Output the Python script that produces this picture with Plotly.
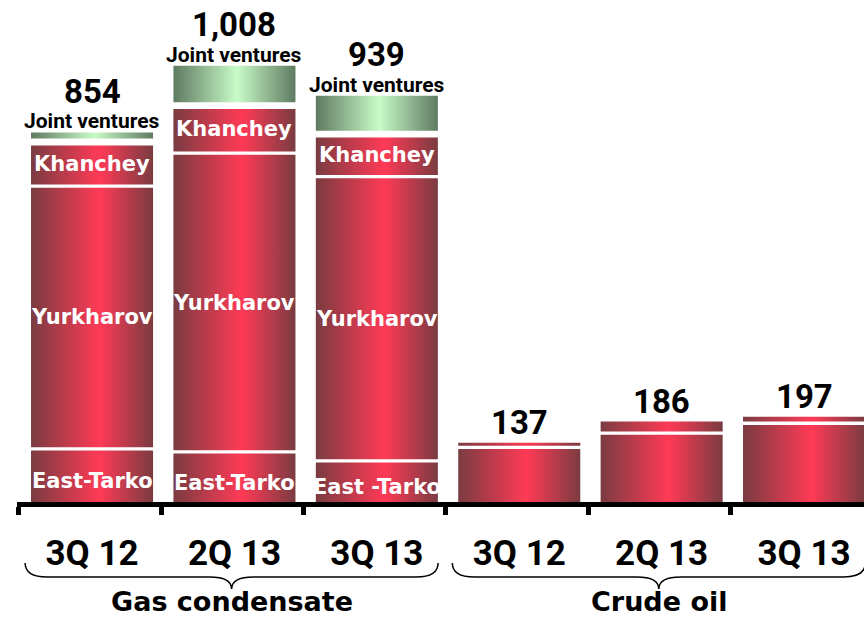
import plotly.graph_objects as go

# ---------------- data ----------------
categories = ["3Q 12", "2Q 13", "3Q 13", "3Q 12", "2Q 13", "3Q 13"]
groups = ["Gas condensate", "Crude oil"]
group_members = [[0, 1, 2], [3, 4, 5]]

east_tarko = [123, 116, 95]
yurkharov = [607, 690, 657]
khanchey = [102, 110, 98]
joint_ventures = [22, 92, 89]
gas_totals = [854, 1008, 939]
east_tarko_text = ["East-Tarko", "East-Tarko", "East -Tarko"]

oil_main = [126, 159, 182]
oil_top = [11, 27, 15]
oil_totals = [137, 186, 197]

# ---------------- style ----------------
RED = [[0, "#7a3c41"], [0.56, "#ff3a56"], [1, "#7a3c41"]]
GREEN = [[0, "#5f7a60"], [0.52, "#c8fbc8"], [1, "#5f7a60"]]
BAR_W = 0.857
GAP_S = 7.6    # thin white separator (data units)
GAP_L = 16.0   # wider separator under joint ventures
X_RANGE = [-0.527, 5.421]
Y_RANGE = [0, 1160]
W, H = 864, 617
ML, MB = 17, 115
PLOT_H = H - MB

x_pos = list(range(len(categories)))

fig = go.Figure()


def add_segment(xc, y0, y1, scale):
    hw = BAR_W / 2
    fig.add_trace(go.Scatter(
        x=[xc - hw, xc + hw, xc + hw, xc - hw, xc - hw],
        y=[y0, y0, y1, y1, y0],
        mode="lines", fill="toself",
        line=dict(width=0, color="rgba(0,0,0,0)"),
        fillgradient=dict(type="horizontal", colorscale=scale),
        hoverinfo="skip", showlegend=False,
    ))


def draw_stack(xc, values, scales, gaps):
    base = 0
    bounds = []
    for k, (v, sc) in enumerate(zip(values, scales)):
        lo = base + (gaps[k - 1] / 2 if k > 0 else 0)
        hi = base + v - (gaps[k] / 2 if k < len(values) - 1 else 0)
        add_segment(xc, lo, hi, sc)
        bounds.append((base, base + v))
        base += v
    return bounds


annotations = []
VAL_FONT = dict(family="Roboto", size=33, color="black", weight="bold")
JV_FONT = dict(family="Roboto", size=21, color="black", weight="bold")
IN_FONT = dict(family="DejaVu Sans", size=21, color="white", weight="bold")

# gas condensate bars
for i in range(3):
    xc = x_pos[group_members[0][i]]
    vals = [east_tarko[i], yurkharov[i], khanchey[i], joint_ventures[i]]
    b = draw_stack(xc, vals, [RED, RED, RED, GREEN], [GAP_S, GAP_S, GAP_L])
    inner = [(east_tarko_text[i], b[0], -6), ("Yurkharov", b[1], 0), ("Khanchey", b[2], 0)]
    for txt, (lo, hi), ys in inner:
        annotations.append(dict(x=xc, y=(lo + hi) / 2, text=txt, showarrow=False,
                                font=IN_FONT, yshift=ys, xref="x", yref="y"))
    annotations.append(dict(x=xc, y=gas_totals[i], text="Joint ventures", showarrow=False,
                            font=JV_FONT, yshift=11, borderpad=0, xref="x", yref="y"))
    annotations.append(dict(x=xc, y=gas_totals[i], text=f"{gas_totals[i]:,}", showarrow=False,
                            font=VAL_FONT, yshift=41, borderpad=0, xref="x", yref="y"))

# crude oil bars
for i in range(3):
    xc = x_pos[group_members[1][i]]
    draw_stack(xc, [oil_main[i], oil_top[i]], [RED, RED], [GAP_S])
    annotations.append(dict(x=xc, y=oil_totals[i], text=f"{oil_totals[i]:,}", showarrow=False,
                            font=VAL_FONT, yshift=20, xref="x", yref="y"))


# group labels and braces
def px_to_paper_y(py):
    return (PLOT_H - py) / PLOT_H


def x_to_paper(x):
    return (x - X_RANGE[0]) / (X_RANGE[1] - X_RANGE[0])


PLOT_W = W - ML
shapes = []
for g, members in zip(groups, group_members):
    xs = [x_pos[m] for m in members]
    xm = sum(xs) / len(xs) - 0.02
    annotations.append(dict(x=xm, y=px_to_paper_y(601), xref="x", yref="paper", text=g,
                            showarrow=False, xanchor="center", yanchor="middle", borderpad=0,
                            font=dict(family="DejaVu Sans", size=27, color="black", weight="bold")))
    xa = x_to_paper(xs[0] - 0.47)
    xb = x_to_paper(xs[-1] + 0.43)
    xmp = x_to_paper(xm)
    y0, y1, y2 = px_to_paper_y(563), px_to_paper_y(577), px_to_paper_y(589)
    dx = 22 / PLOT_W
    path = (f"M {xa},{y0} Q {xa},{y1} {xa + dx},{y1} L {xmp - dx},{y1} "
            f"Q {xmp},{y1} {xmp},{y2} Q {xmp},{y1} {xmp + dx},{y1} "
            f"L {xb - dx},{y1} Q {xb},{y1} {xb},{y0}")
    shapes.append(dict(type="path", path=path, xref="paper", yref="paper",
                       line=dict(color="black", width=1.5)))

boundaries = [k - 0.515 for k in range(len(categories) + 1)]

fig.update_layout(
    width=W, height=H,
    margin=dict(l=ML, r=0, t=0, b=MB),
    paper_bgcolor="white", plot_bgcolor="white",
    showlegend=False,
    annotations=annotations,
    shapes=shapes,
    xaxis=dict(
        range=X_RANGE, showgrid=False, zeroline=False,
        showline=True, linewidth=5, linecolor="black",
        tickmode="array", tickvals=x_pos, ticktext=categories, ticks="",
        tickfont=dict(family="Roboto", size=35, color="black", weight="bold"),
        ticklabelstandoff=16,
        minor=dict(tickmode="array", tickvals=boundaries, ticks="outside",
                   ticklen=8, tickwidth=5, tickcolor="black", showgrid=False),
        fixedrange=True,
    ),
    yaxis=dict(range=Y_RANGE, visible=False, fixedrange=True),
)

fig.write_html(
    "out.html",
    config={"displayModeBar": False},
    post_script="document.body.style.margin='0';document.body.style.overflow='hidden';",
)
